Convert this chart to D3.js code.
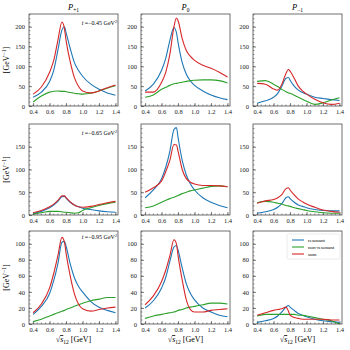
<!DOCTYPE html>
<html>
<head>
<meta charset="utf-8">
<script src="https://cdn.jsdelivr.net/npm/d3@7"></script>
<style>
body { margin: 0; background: #fff; }
text { font-family: "Liberation Serif", "DejaVu Serif", serif; }
</style>
</head>
<body>
<div id="chart"></div>
<script>

var xs = [0.4, 0.5, 0.6, 0.65, 0.7, 0.75, 0.78, 0.8, 0.85, 0.9, 0.95, 1.0, 1.1, 1.2, 1.3, 1.4];

// row 1, t = -0.45
var res_p1_a = [22, 35, 62, 90, 140, 192, 200, 185, 145, 110, 90, 75, 55, 42, 33, 27];
var non_p1_a = [10, 25, 35, 37, 38, 37, 37, 36, 34, 32, 31, 30, 32, 38, 45, 51];
var sum_p1_a = [30, 48, 85, 115, 165, 212, 195, 165, 112, 72, 50, 38, 33, 38, 46, 53];

var res_p0_a = [38, 55, 90, 120, 165, 198, 185, 160, 110, 80, 63, 52, 38, 28, 21, 16];
var non_p0_a = [22, 28, 42, 47, 52, 56, 57, 58, 60, 62, 64, 65, 66, 66, 64, 58];
var sum_p0_a = [35, 35, 60, 85, 130, 200, 222, 215, 170, 140, 125, 115, 103, 95, 85, 73];

var res_m1_a = [7, 13, 22, 32, 50, 70, 72, 65, 50, 40, 34, 30, 22, 19, 16, 14];
var non_m1_a = [62, 64, 55, 49, 42, 36, 33, 32, 27, 22, 17, 12, 4, 8, 15, 21];
var sum_m1_a = [57, 55, 43, 40, 55, 82, 92, 88, 70, 50, 38, 30, 17, 8, 4, 7];

// row 2, t = -0.65
var res_p1_b = [3, 8, 16, 22, 30, 40, 41, 37, 28, 22, 18, 15, 12, 9, 7, 6];
var non_p1_b = [2, 5, 8, 8, 8, 7, 6, 6, 5, 4, 5, 10, 16, 21, 25, 28];
var sum_p1_b = [5, 10, 18, 24, 32, 42, 42, 38, 29, 22, 18, 17, 19, 23, 27, 30];

var res_p0_b = [38, 55, 80, 105, 140, 188, 192, 170, 120, 88, 68, 55, 38, 28, 21, 16];
var non_p0_b = [16, 20, 28, 32, 36, 39, 41, 43, 47, 50, 53, 55, 59, 63, 64, 62];
var sum_p0_b = [50, 60, 75, 95, 120, 155, 154, 140, 100, 80, 72, 68, 65, 65, 64, 62];

var res_m1_b = [4, 7, 12, 17, 25, 38, 40, 36, 28, 22, 19, 16, 12, 10, 9, 9];
var non_m1_b = [27, 30, 28, 26, 24, 21, 20, 19, 16, 14, 12, 10, 7, 5, 4, 4];
var sum_m1_b = [26, 31, 34, 38, 45, 58, 60, 55, 44, 35, 29, 24, 17, 11, 8, 6];

// row 3, t = -0.95
var res_p1_c = [12, 22, 38, 54, 75, 102, 103, 97, 75, 58, 47, 40, 28, 21, 17, 14];
var non_p1_c = [3, 6, 10, 12, 14, 16, 17, 18, 20, 22, 24, 26, 29, 31, 33, 33];
var sum_p1_c = [14, 25, 45, 63, 85, 108, 102, 88, 60, 38, 25, 19, 16, 18, 20, 21];

var res_p0_c = [20, 29, 45, 58, 78, 96, 98, 92, 70, 50, 38, 30, 20, 15, 11, 9];
var non_p0_c = [7, 10, 12, 13, 14, 15, 16, 17, 18, 20, 21, 22, 24, 26, 26, 25];
var sum_p0_c = [24, 35, 53, 67, 85, 105, 100, 85, 55, 30, 18, 15, 15, 17, 18, 19];

var res_m1_c = [2, 4, 7, 10, 15, 21, 23, 21, 17, 13, 11, 9, 6, 4, 3, 2];
var non_m1_c = [10, 12, 12, 12, 12, 12, 12, 12, 12, 11, 11, 10, 8, 6, 4, 0];
var sum_m1_c = [11, 14, 17, 18, 19, 21, 16, 11, 8, 7, 6, 6, 6, 6, 5, 5];

var colTitles = ["P", "P", "P"];
var colSubs = ["+1", "0", "\u22121"];
var rowLabels = ["\u22120.45", "\u22120.65", "\u22120.95"];
var rowMax = [232, 200, 116];
var rowMajor = [50, 50, 20];
var rowMinor = [10, 10, 5];
var seriesNames = ["resonant", "non-resonant", "sum"];
var colors = ["#1f77b4", "#2ca02c", "#d62728"];

var panels = [
	[[res_p1_a, non_p1_a, sum_p1_a], [res_p0_a, non_p0_a, sum_p0_a], [res_m1_a, non_m1_a, sum_m1_a]],
	[[res_p1_b, non_p1_b, sum_p1_b], [res_p0_b, non_p0_b, sum_p0_b], [res_m1_b, non_m1_b, sum_m1_b]],
	[[res_p1_c, non_p1_c, sum_p1_c], [res_p0_c, non_p0_c, sum_p0_c], [res_m1_c, non_m1_c, sum_m1_c]]
];

var width = 350, height = 350,
	lefts = [29, 141, 253],
	tops = [14, 124, 231],
	pw = 89,
	ph = [92, 91, 93];

var svg = d3.select("#chart").append("svg")
	.attr("width", width)
	.attr("height", height);

var x = d3.scaleLinear().domain([0.35, 1.43]).range([0, pw]);

for (var r = 0; r < 3; r++) {
	var y = d3.scaleLinear().domain([0, rowMax[r]]).range([ph[r], 0]);
	for (var c = 0; c < 3; c++) {
		var g = svg.append("g").attr("transform", "translate(" + lefts[c] + "," + tops[r] + ")");

		// minor ticks
		var yMinor = d3.range(0, rowMax[r], rowMinor[r]);
		g.selectAll(".ymin").data(yMinor).enter().append("line")
			.attr("x1", 0).attr("x2", 1.5)
			.attr("y1", function(d){ return y(d); }).attr("y2", function(d){ return y(d); })
			.attr("stroke", "#333").attr("stroke-width", 0.5);
		var xMinor = d3.range(0.4, 1.41, 0.05);
		g.selectAll(".xmin").data(xMinor).enter().append("line")
			.attr("x1", function(d){ return x(d); }).attr("x2", function(d){ return x(d); })
			.attr("y1", ph[r]).attr("y2", ph[r] - 1.5)
			.attr("stroke", "#333").attr("stroke-width", 0.5);

		var yAxis = d3.axisLeft(y).tickValues(d3.range(0, rowMax[r], rowMajor[r]))
			.tickSize(-3).tickPadding(4).tickFormat(d3.format("d"));
		var ya = g.append("g").call(yAxis);
		ya.select(".domain").remove();
		ya.selectAll("line").attr("stroke", "#333").attr("stroke-width", 0.6);
		ya.selectAll("text").attr("font-size", 6.5).attr("font-family", "Liberation Serif").attr("fill", "#222");

		var xAxis = d3.axisBottom(x).tickValues([0.4, 0.6, 0.8, 1.0, 1.2, 1.4])
			.tickSize(-3).tickPadding(3).tickFormat(d3.format(".1f"));
		var xa = g.append("g").attr("transform", "translate(0," + ph[r] + ")").call(xAxis);
		xa.select(".domain").remove();
		xa.selectAll("line").attr("stroke", "#333").attr("stroke-width", 0.6);
		xa.selectAll("text").attr("font-size", 6.5).attr("font-family", "Liberation Serif").attr("fill", "#222");

		var line = d3.line()
			.x(function(d, i){ return x(xs[i]); })
			.y(function(d){ return y(d); })
			.curve(d3.curveMonotoneX);

		panels[r][c].forEach(function(s, k){
			g.append("path").datum(s)
				.attr("d", line)
				.attr("fill", "none")
				.attr("stroke", colors[k])
				.attr("stroke-width", 1.1);
		});

		g.append("rect").attr("width", pw).attr("height", ph[r])
			.attr("fill", "none").attr("stroke", "#333").attr("stroke-width", 0.7);

		if (r === 0) {
			var tt = g.append("text").attr("x", pw / 2).attr("y", -4)
				.attr("text-anchor", "middle").attr("font-size", 8.5).attr("font-style", "italic");
			tt.append("tspan").text(colTitles[c]);
			tt.append("tspan").attr("font-size", 5.5).attr("dy", 2).attr("font-style", "normal").text(colSubs[c]);
		}
		if (c === 0) {
			var tl = g.append("text").attr("x", pw - 1).attr("y", r === 2 ? 8 : 11)
				.attr("text-anchor", "end").attr("font-size", 6);
			tl.append("tspan").attr("font-style", "italic").text("t");
			tl.append("tspan").text(" =" + rowLabels[r] + " GeV");
			tl.append("tspan").attr("font-size", 4.2).attr("dy", -2.5).text("2");

			var yl = g.append("text")
				.attr("transform", "translate(-20," + (ph[r] / 2) + ") rotate(-90)")
				.attr("text-anchor", "middle").attr("font-size", 8);
			yl.append("tspan").text("[GeV");
			yl.append("tspan").attr("font-size", 5.5).attr("dy", -3).text("\u22121");
			yl.append("tspan").attr("dy", 3).text("]");
		}
		if (r === 2) {
			var xl = g.append("text").attr("x", pw / 2).attr("y", ph[r] + 18)
				.attr("text-anchor", "middle").attr("font-size", 8);
			xl.append("tspan").text("\u221A");
			xl.append("tspan").attr("font-style", "italic").attr("text-decoration", "overline").text("s");
			xl.append("tspan").attr("font-size", 5.5).attr("dy", 2).attr("font-style", "normal").text("12");
			xl.append("tspan").attr("dy", -2).text(" [GeV]");
		}
		if (r === 2 && c === 2) {
			var lg = g.append("g").attr("transform", "translate(34,3)");
			lg.append("rect").attr("width", 53).attr("height", 25)
				.attr("fill", "#fff").attr("stroke", "#ddd").attr("stroke-width", 0.6).attr("rx", 1.5);
			seriesNames.forEach(function(n, k){
				lg.append("line").attr("x1", 5).attr("x2", 17)
					.attr("y1", 6 + k * 7).attr("y2", 6 + k * 7)
					.attr("stroke", colors[k]).attr("stroke-width", 1.1);
				lg.append("text").attr("x", 21).attr("y", 8 + k * 7)
					.attr("font-size", 5).text(n);
			});
		}
	}
}
</script>
</body>
</html>
